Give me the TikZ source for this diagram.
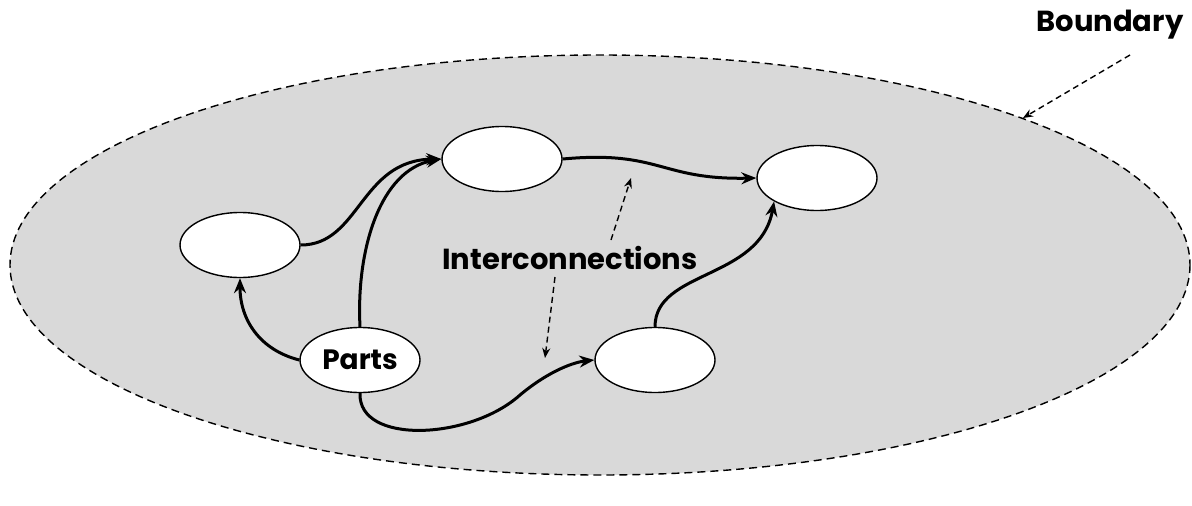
\documentclass[tikz,border=0pt]{standalone}
\usepackage{fontspec}
\setmainfont{Poppins}
\usetikzlibrary{arrows.meta,shapes.geometric}
\definecolor{field}{HTML}{D9D9D9}
\tikzset{
  part/.style={ellipse, draw=black, line width=1.4pt, fill=white,
    minimum width=120pt, minimum height=65pt, inner sep=0pt,
    font=\bfseries\fontsize{28}{32}\selectfont},
  link/.style={line width=3pt, -{Stealth[length=15pt,width=12pt,inset=5pt]}},
  pointer/.style={line width=1.4pt, dash pattern=on 6pt off 4pt,
    -{Stealth[length=10pt,width=8pt]}},
  caption/.style={font=\bfseries\fontsize{29}{33}\selectfont, inner sep=0pt}
}
\begin{document}
\begin{tikzpicture}[x=1pt,y=-1pt]
\useasboundingbox (0,0) rectangle (1192,506);
% system boundary
\draw[fill=field, line width=1.4pt, dash pattern=on 8pt off 5pt]
  (600,265) ellipse [x radius=590, y radius=210];
\coordinate (rim) at (1023,118);
\node[caption] (bnd) at (1110,25) {Boundary};
\coordinate (bndtail) at (1130,55);
\draw[pointer] (bndtail) -- (rim);
% parts
\node[part] (a) at (240,245) {};
\node[part] (b) at (502,159) {};
\node[part] (c) at (817,178) {};
\node[part] (d) at (655,360) {};
\node[part] (p) at (360,360) {Parts};
% interconnections
\draw[link] (a.east) .. controls (360,245) and (360,160) .. (b.west);
\draw[link] (p.north) .. controls (356,250) and (380,170) .. (b.west);
\draw[link] (p.west) .. controls (260,350) and (240,320) .. (a.south);
\draw[link] (p.south) .. controls (358,445) and (470,440) .. (520,395) .. controls (550,370) and (575,362) .. (d.west);
\draw[link] (b.east) .. controls (660,150) and (660,180) .. (c.west);
\draw[link] (d.north) .. controls (655,270) and (760,280) .. (c.south west);
% label pointing at the links
\node[caption] (ic) at (570,258) {Interconnections};
\coordinate (up1) at (611,240);
\coordinate (up2) at (631,178);
\coordinate (dn1) at (555,277);
\coordinate (dn2) at (545,358);
\draw[pointer] (up1) -- (up2);
\draw[pointer] (dn1) -- (dn2);
\end{tikzpicture}
\end{document}
